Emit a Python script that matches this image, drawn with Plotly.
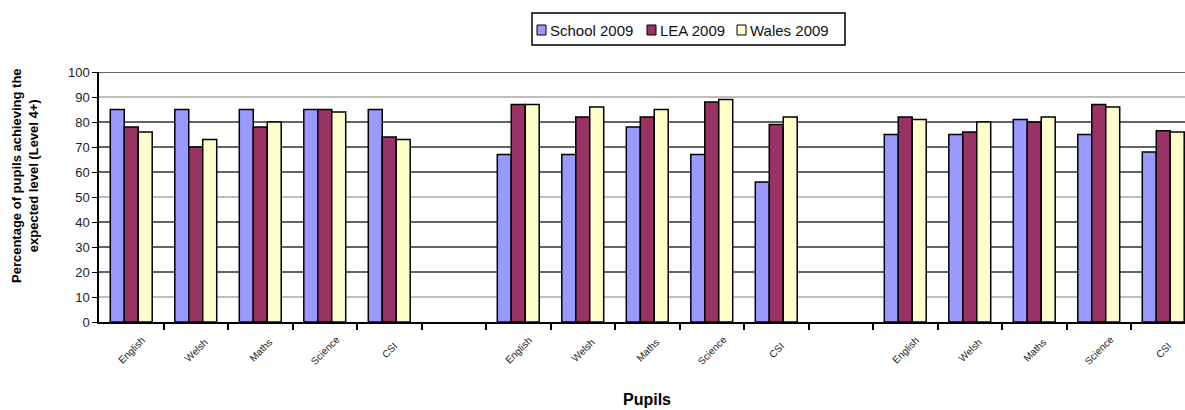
import plotly.graph_objects as go

# Categories (17 slots; blank slots separate the three groups)
categories = ["English", "Welsh", "Maths", "Science", "CSI", "",
              "English", "Welsh", "Maths", "Science", "CSI", "",
              "English", "Welsh", "Maths", "Science", "CSI"]

school_2009 = [85, 85, 85, 85, 85, None,
               67, 67, 78, 67, 56, None,
               75, 75, 81, 75, 68]
lea_2009 = [78, 70, 78, 85, 74, None,
            87, 82, 82, 88, 79, None,
            82, 76, 80, 87, 76.5]
wales_2009 = [76, 73, 80, 84, 73, None,
              87, 86, 85, 89, 82, None,
              81, 80, 82, 86, 76]

series_names = ["School 2009", "LEA 2009", "Wales 2009"]
series_values = [school_2009, lea_2009, wales_2009]
series_colors = ["#9999FF", "#993366", "#FFFFCC"]

y_ticks = list(range(0, 101, 10))

W, H = 1185, 410
L, R, T, B = 99, 0, 72, 88
CAT_PX = 64.5

positions = list(range(len(categories)))

fig = go.Figure()
for name, vals, col in zip(series_names, series_values, series_colors):
    fig.add_trace(go.Bar(x=positions, y=vals, name=name, showlegend=False,
                         marker=dict(color=col, line=dict(color="black", width=1.5))))

def px_x(p):
    return (p - L) / (W - L - R)

def px_y(p):
    return (H - B - p) / (H - T - B)

shapes = []
annotations = []

# horizontal gridlines (alternating dark / light as in the source image)
for v in y_ticks[1:]:
    light = v in (10, 50, 90)
    shapes.append(dict(type="line", xref="paper", yref="y", x0=0, x1=1, y0=v, y1=v,
                       line=dict(color="#a8a8a8" if light else "#303030", width=1.5),
                       layer="below"))

# rotated category labels centred under each slot
for i, lab in enumerate(categories):
    if lab:
        annotations.append(dict(text=lab, x=i, xref="x", y=px_y(350), yref="paper",
                                xanchor="center", yanchor="middle", textangle=-45,
                                showarrow=False, font=dict(size=10, color="#222")))

# legend box drawn as layout shapes + text
shapes.append(dict(type="rect", xref="paper", yref="paper",
                   x0=px_x(532), x1=px_x(845), y0=px_y(45), y1=px_y(13),
                   line=dict(color="black", width=1.5), fillcolor="white"))
legend_x = [537, 647, 737]
for name, col, lx in zip(series_names, series_colors, legend_x):
    shapes.append(dict(type="rect", xref="paper", yref="paper",
                       x0=px_x(lx), x1=px_x(lx + 9), y0=px_y(35), y1=px_y(25),
                       line=dict(color="black", width=1), fillcolor=col))
    annotations.append(dict(text=name, xref="paper", yref="paper",
                            x=px_x(lx + 11), y=px_y(30), xanchor="left", yanchor="middle",
                            showarrow=False, font=dict(size=15, color="#111")))

annotations.append(dict(text="<b>Percentage of pupils achieving the</b><br><b>expected level (Level 4+)</b>",
                        xref="paper", yref="paper", x=px_x(25), y=px_y(176),
                        xanchor="center", yanchor="middle", textangle=-90,
                        showarrow=False, font=dict(size=13)))
annotations.append(dict(text="<b>Pupils</b>", xref="paper", yref="paper",
                        x=px_x(647), y=px_y(399), xanchor="center", yanchor="middle",
                        showarrow=False, font=dict(size=16)))

fig.update_layout(
    width=W, height=H,
    margin=dict(l=L, r=R, t=T, b=B),
    plot_bgcolor="white", paper_bgcolor="white",
    barmode="group", bargap=0.35, bargroupgap=0,
    font=dict(family="Liberation Sans, Arial, sans-serif", color="black"),
    showlegend=False,
    xaxis=dict(range=[-0.5, (W - L - R) / CAT_PX - 0.5],
               tickmode="array", tickvals=[], showticklabels=False, ticks="",
               minor=dict(tickmode="array", tickvals=[i + 0.5 for i in positions],
                          ticks="outside", ticklen=6, tickcolor="black", tickwidth=1.5,
                          showgrid=False),
               showline=True, linecolor="black", linewidth=1.5,
               showgrid=False, zeroline=False),
    yaxis=dict(range=[0, 100], tickmode="array", tickvals=y_ticks,
               ticks="outside", ticklen=5, tickcolor="black",
               tickfont=dict(size=13, color="#222"),
               showline=True, linecolor="black", linewidth=1.5,
               showgrid=False, zeroline=False),
    shapes=shapes,
    annotations=annotations,
)

fig.write_html("out.html")
